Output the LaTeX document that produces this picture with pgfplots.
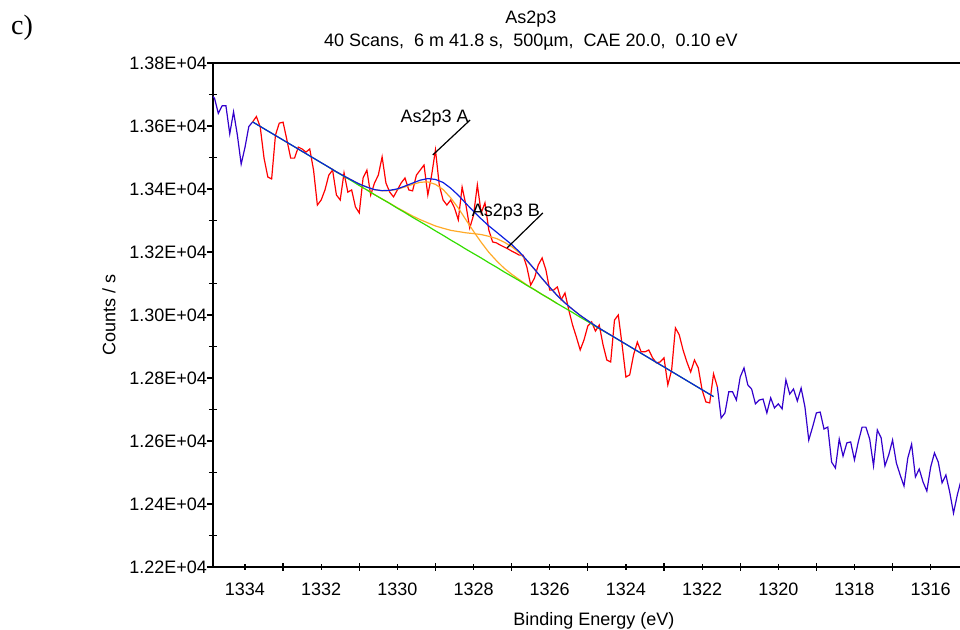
\documentclass[border=0pt]{standalone}
\usepackage{fontspec}
\setmainfont{Liberation Sans}
\newfontfamily\serifc{Liberation Serif}
\usepackage{pgfplots}
\usepackage{pgfplotstable}
\pgfplotsset{compat=1.18}

\definecolor{rawc}{RGB}{51,0,204}
\definecolor{redc}{RGB}{255,0,0}
\definecolor{greenc}{RGB}{51,221,0}
\definecolor{orangec}{RGB}{255,170,40}
\definecolor{envc}{RGB}{10,30,225}

% raw data outside the fitted region (left part)
\pgfplotstableread{
x y
1334.9 13700
1334.8 13688
1334.7 13640
1334.6 13664
1334.5 13664
1334.4 13575
1334.3 13645
1334.2 13571
1334.1 13479
1334.0 13532
1333.9 13598
1333.8 13613
}\rawleft

% raw data inside the fitted region
\pgfplotstableread{
x y
1333.8 13613
1333.7 13630
1333.6 13597
1333.5 13498
1333.4 13438
1333.3 13432
1333.2 13571
1333.1 13609
1333.0 13612
1332.9 13556
1332.8 13498
1332.7 13498
1332.6 13533
1332.5 13527
1332.4 13517
1332.3 13527
1332.2 13460
1332.1 13349
1332.0 13365
1331.9 13397
1331.8 13444
1331.7 13460
1331.6 13381
1331.5 13365
1331.4 13451
1331.3 13390
1331.2 13397
1331.1 13343
1331.0 13324
1330.9 13435
1330.8 13460
1330.7 13381
1330.6 13419
1330.5 13444
1330.4 13502
1330.3 13419
1330.2 13390
1330.1 13375
1330.0 13397
1329.9 13419
1329.8 13435
1329.7 13397
1329.6 13394
1329.5 13444
1329.4 13460
1329.3 13476
1329.2 13381
1329.1 13444
1329.0 13524
1328.9 13413
1328.8 13365
1328.7 13349
1328.6 13365
1328.5 13340
1328.4 13302
1328.3 13406
1328.2 13349
1328.1 13276
1328.0 13317
1327.9 13413
1327.8 13324
1327.7 13356
1327.6 13270
1327.5 13232
1327.4 13229
1327.3 13222
1327.2 13216
1327.1 13210
1327.0 13203
1326.9 13197
1326.8 13190
1326.7 13190
1326.6 13152
1326.5 13095
1326.4 13117
1326.3 13159
1326.2 13181
1326.1 13143
1326.0 13079
1325.9 13079
1325.8 13089
1325.7 13048
1325.6 13070
1325.5 13016
1325.4 12968
1325.3 12930
1325.2 12889
1325.1 12921
1325.0 12965
1324.9 12978
1324.8 12949
1324.7 12968
1324.6 12905
1324.5 12857
1324.4 12851
1324.3 12984
1324.2 13000
1324.1 12905
1324.0 12803
1323.9 12810
1323.8 12873
1323.7 12914
1323.6 12883
1323.5 12883
1323.4 12889
1323.3 12864
1323.2 12848
1323.1 12851
1323.0 12864
1322.9 12778
1322.8 12825
1322.7 12959
1322.6 12937
1322.5 12889
1322.4 12851
1322.3 12819
1322.2 12857
1322.1 12832
1322.0 12762
1321.9 12724
1321.8 12721
1321.7 12813
1321.6 12772
}\rawred

% raw data outside the fitted region (right part)
\pgfplotstableread{
x y
1321.6 12772
1321.5 12673
1321.4 12689
1321.3 12756
1321.2 12756
1321.1 12730
1321.0 12803
1320.9 12832
1320.8 12778
1320.7 12765
1320.6 12718
1320.5 12730
1320.4 12733
1320.3 12689
1320.2 12737
1320.1 12705
1320.0 12718
1319.9 12702
1319.8 12794
1319.7 12749
1319.6 12765
1319.5 12727
1319.4 12768
1319.3 12708
1319.2 12603
1319.1 12644
1319.0 12689
1318.9 12692
1318.8 12638
1318.7 12644
1318.6 12533
1318.5 12514
1318.4 12606
1318.3 12552
1318.2 12594
1318.1 12597
1318.0 12540
1317.9 12597
1317.8 12644
1317.7 12644
1317.6 12606
1317.5 12521
1317.4 12635
1317.3 12610
1317.2 12521
1317.1 12556
1317.0 12603
1316.9 12530
1316.8 12492
1316.7 12457
1316.6 12546
1316.5 12590
1316.4 12486
1316.3 12511
1316.2 12470
1316.1 12441
1316.0 12517
1315.9 12562
1315.8 12533
1315.7 12467
1315.6 12492
1315.5 12438
1315.4 12371
1315.3 12429
1315.2 12476
}\rawright

% fit model: background and the two components (heights above background)
\pgfplotstableread{
x bg A B
1333.8 13613 0 0
1331.8 13469 0.2 0
1331.6 13454 0.5 0
1331.4 13440 1.1 0
1331.2 13426 2.3 0
1331.0 13411 4.7 0
1330.8 13397 8.9 0.1
1330.6 13382 15.8 0.2
1330.4 13368 26.3 0.4
1330.2 13354 41.0 0.8
1330.0 13339 59.8 1.4
1329.8 13325 81.7 2.5
1329.6 13310 104.6 4.2
1329.4 13296 125.3 6.7
1329.2 13282 140.6 10.5
1329.0 13267 147.7 15.6
1328.8 13253 145.3 22.4
1328.6 13238 133.8 30.8
1328.4 13224 115.4 40.8
1328.2 13209 93.2 51.9
1328.0 13195 70.5 63.4
1327.8 13181 49.9 74.4
1327.6 13166 33.1 83.8
1327.4 13152 20.6 90.8
1327.2 13137 11.9 94.5
1327.0 13123 6.5 94.3
1326.8 13109 3.3 88.5
1326.6 13094 1.6 78.1
1326.4 13080 0.7 64.8
1326.2 13065 0.3 50.5
1326.0 13051 0.1 36.9
1325.8 13036 0 25.4
1325.6 13022 0 16.4
1325.4 13008 0 9.9
1325.2 12993 0 5.7
1325.0 12979 0 3.0
1324.8 12964 0 1.5
1324.6 12950 0 0.7
1324.4 12936 0 0.3
1321.7 12741 0 0
}\model

\begin{document}
\begin{tikzpicture}[x=1pt,y=1pt]
\path[use as bounding box] (0,0) rectangle (480,315);
\begin{axis}[
  at={(106.5pt,31.5pt)}, anchor=south west,
  scale only axis, width=373.5pt, height=252pt,
  x dir=reverse,
  xmin=1315.23, xmax=1334.84, ymin=12200, ymax=13800,
  scaled y ticks=false, scaled x ticks=false,
  axis x line=box, axis y line=left,
  axis line style={-, line width=0.8pt, black},
  xtick pos=left, ytick pos=left,
  xtick={1316,1318,1320,1322,1324,1326,1328,1330,1332,1334},
  xticklabels={1316,1318,1320,1322,1324,1326,1328,1330,1332,1334},
  ytick={12200,12400,12600,12800,13000,13200,13400,13600,13800},
  yticklabels={1.22E+04,1.24E+04,1.26E+04,1.28E+04,1.30E+04,1.32E+04,1.34E+04,1.36E+04,1.38E+04},
  minor x tick num=1, minor y tick num=1,
  tick align=center,
  major tick length=3pt, minor tick length=4pt,
  tick style={black, line width=0.6pt},
  major y tick style={xshift=-1.5pt},
  tick label style={font=\fontsize{9}{10}\selectfont, black},
  yticklabel style={xshift=2pt},
  xticklabel style={yshift=-3pt},
  xlabel={Binding Energy (eV)},
  ylabel={Counts / s},
  label style={font=\fontsize{9}{10}\selectfont},
  xlabel style={xshift=3.75pt, yshift=-1.5pt},
  ylabel style={yshift=0pt},
  title={As2p3\\40 Scans,\ \ 6 m 41.8 s,\ \ 500µm,\ \ CAE 20.0,\ \ 0.10 eV},
  title style={font=\fontsize{9}{11.5}\selectfont, align=center,
    at={(rel axis cs:0.4257,1)}, anchor=south, yshift=-3pt},
  every axis plot/.append style={line width=0.6pt, no markers},
]
\addplot[rawc] table[x=x,y=y] {\rawleft};
\addplot[rawc] table[x=x,y=y] {\rawright};
\addplot[redc] table[x=x,y=y] {\rawred};
\addplot[orangec, restrict x to domain=1325.8:1331.8] table[x=x, y expr=\thisrow{bg}+\thisrow{A}] {\model};
\addplot[orangec, restrict x to domain=1324.4:1330.8] table[x=x, y expr=\thisrow{bg}+\thisrow{B}] {\model};
\addplot[greenc] table[x=x, y=bg] {\model};
\addplot[envc] table[x=x, y expr=\thisrow{bg}+\thisrow{A}+\thisrow{B}] {\model};
\draw[black, line width=0.6pt] (axis cs:1328.09,13619) -- (axis cs:1329.07,13508);
\node[anchor=east, inner sep=0.5pt, font=\fontsize{9}{10}\selectfont] at (axis cs:1328.09,13625) {As2p3 A};
\draw[black, line width=0.6pt] (axis cs:1326.18,13324) -- (axis cs:1327.12,13213);
\node[anchor=east, inner sep=0.5pt, font=\fontsize{9}{10}\selectfont] at (axis cs:1326.22,13327) {As2p3 B};
\end{axis}
\node[font=\serifc\fontsize{14}{16}\selectfont] at (11,301) {c)};
\end{tikzpicture}
\end{document}
